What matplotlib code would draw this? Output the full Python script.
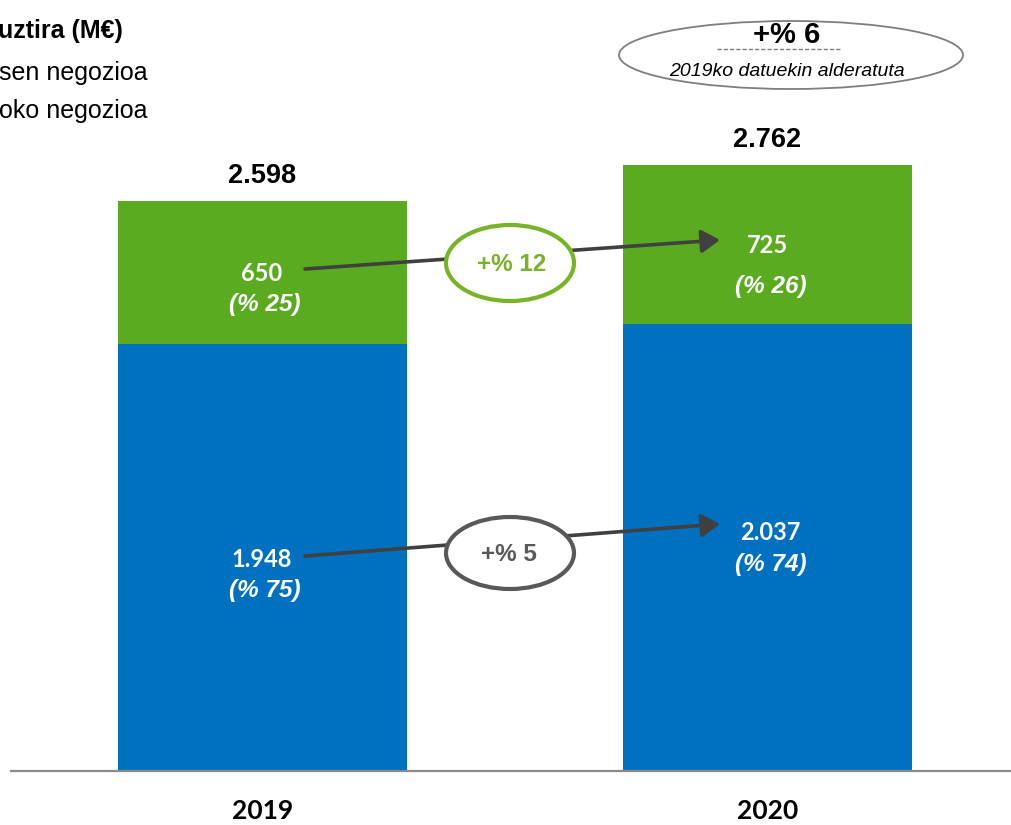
import matplotlib
matplotlib.use("Agg")
import matplotlib.pyplot as plt
from matplotlib.patches import Ellipse, FancyArrowPatch

# ---------------- data ----------------
years = ["2019", "2020"]
blue_vals = [1948, 2037]
green_vals = [650, 725]
totals = [2598, 2762]
blue_labels = ["1.948", "2.037"]
green_labels = ["650", "725"]
blue_pct = ["(% 75)", "(% 74)"]
green_pct = ["(% 25)", "(% 26)"]
total_labels = ["2.598", "2.762"]
growth_green = "+% 12"
growth_blue = "+% 5"
growth_total = "+% 6"
growth_note = "2019ko datuekin alderatuta"
legend_lines = ["uztira (M€)", "sen negozioa", "oko negozioa"]

BLUE = "#0070C0"
GREEN = "#5AAB1F"
GREEN_EDGE = "#78B428"
DARK = "#404040"
GRAY = "#595959"

NARROW = ["Liberation Sans Narrow", "Liberation Sans", "DejaVu Sans"]
CAL = ["Lato", "DejaVu Sans"]

W, H = 1012, 825
fig = plt.figure(figsize=(W / 100, H / 100), dpi=100)
ax = fig.add_axes([0, 0, 1, 1])

# scale: value -> pixel; baseline y=771 px, 0.2194 px per unit
ppu = 0.2194
base = 771
ax.set_ylim(-(H - base) / ppu, base / ppu)
sep = 505.0
c0 = 262.5
ax.set_xlim(-c0 / sep, (W - c0) / sep)
ax.axis("off")

xs = [0, 1]
bw = 289 / sep
ax.bar(xs, blue_vals, width=bw, color=BLUE, zorder=2)
ax.bar(xs, green_vals, width=bw, bottom=blue_vals, color=GREEN, zorder=2)

# baseline
ax.plot([(10 - c0) / sep, (W - c0) / sep], [0, 0], color="#8C8C8C", lw=1.6, zorder=3,
        solid_capstyle="butt")

def P(x, y):
    return (x / W, 1 - y / H)

T = fig.transFigure

# totals
for i, lab in enumerate(total_labels):
    ax.text(xs[i], totals[i] + 82, lab, ha="center", va="baseline", fontsize=19.5,
            fontweight="bold", family=NARROW, color="black")

# year labels
for i, y in enumerate(years):
    ax.text(xs[i], -220, y, ha="center", va="baseline",
            fontsize=19, fontweight="bold", family=CAL, color="black")

# segment labels
seg_pos = [
    ((262, 281), (265, 311)),
    ((768, 253), (771, 293)),
]
for i in range(2):
    (vx, vy), (px_, py_) = seg_pos[i]
    fig.text(*P(vx, vy), green_labels[i], transform=T, ha="center", va="baseline",
             fontsize=17, fontweight="bold", family=CAL, color="white")
    fig.text(*P(px_, py_), green_pct[i], transform=T, ha="center", va="baseline",
             fontsize=17.5, fontweight="bold", style="italic", family=NARROW, color="white")

seg_pos_b = [
    ((262, 567), (265, 597)),
    ((770, 540), (771, 571)),
]
for i in range(2):
    (vx, vy), (px_, py_) = seg_pos_b[i]
    fig.text(*P(vx, vy), blue_labels[i], transform=T, ha="center", va="baseline",
             fontsize=17, fontweight="bold", family=CAL, color="white")
    fig.text(*P(px_, py_), blue_pct[i], transform=T, ha="center", va="baseline",
             fontsize=17.5, fontweight="bold", style="italic", family=NARROW, color="white")

# arrows
def arrow(x1, y1, x2, y2):
    a = FancyArrowPatch(P(x1, y1), P(x2, y2), transform=T,
                        arrowstyle="-|>,head_length=0.8,head_width=0.5",
                        mutation_scale=14, lw=2.6, color=DARK, zorder=5, shrinkA=0, shrinkB=0)
    fig.add_artist(a)

arrow(305, 269, 720, 240)
arrow(305, 556, 720, 524)

# ellipses
def ellipse(cx, cy, w, h, ec, lw):
    e = Ellipse(P(cx, cy), w / W, h / H, transform=T, facecolor="white", edgecolor=ec,
                lw=lw, zorder=6)
    fig.add_artist(e)

ellipse(510, 263, 128, 76, GREEN_EDGE, 3.0)
fig.text(*P(512, 271), growth_green, transform=T, ha="center", va="baseline", fontsize=17.5,
         fontweight="bold", family=NARROW, color=GREEN_EDGE, zorder=7)

ellipse(510, 553, 128, 72, GRAY, 3.0)
fig.text(*P(509, 561), growth_blue, transform=T, ha="center", va="baseline", fontsize=17.5,
         fontweight="bold", family=NARROW, color=GRAY, zorder=7)

# top ellipse
ellipse(791, 55, 344, 68, "#7F7F7F", 1.3)
fig.text(*P(787, 43), growth_total, transform=T, ha="center", va="baseline", fontsize=21,
         fontweight="bold", family=NARROW, color="black", zorder=7)
fig.lines.append(plt.Line2D([717 / W, 842 / W], [1 - 49 / H, 1 - 49 / H], transform=T,
                            color="#7F7F7F", lw=1.0, ls=(0, (3, 1.5)), zorder=7))
fig.text(*P(787, 76), growth_note, transform=T, ha="center", va="baseline", fontsize=14,
         style="italic", family=NARROW, color="black", zorder=7)

# legend text (cropped at left edge)
fig.text(*P(-2, 38), legend_lines[0], transform=T, ha="left", va="baseline", fontsize=18,
         fontweight="bold", family=NARROW, color="black")
fig.text(*P(-1, 80), legend_lines[1], transform=T, ha="left", va="baseline", fontsize=18,
         family=NARROW, color="black")
fig.text(*P(-1, 118), legend_lines[2], transform=T, ha="left", va="baseline", fontsize=18,
         family=NARROW, color="black")

fig.savefig("out.png", dpi=100)
